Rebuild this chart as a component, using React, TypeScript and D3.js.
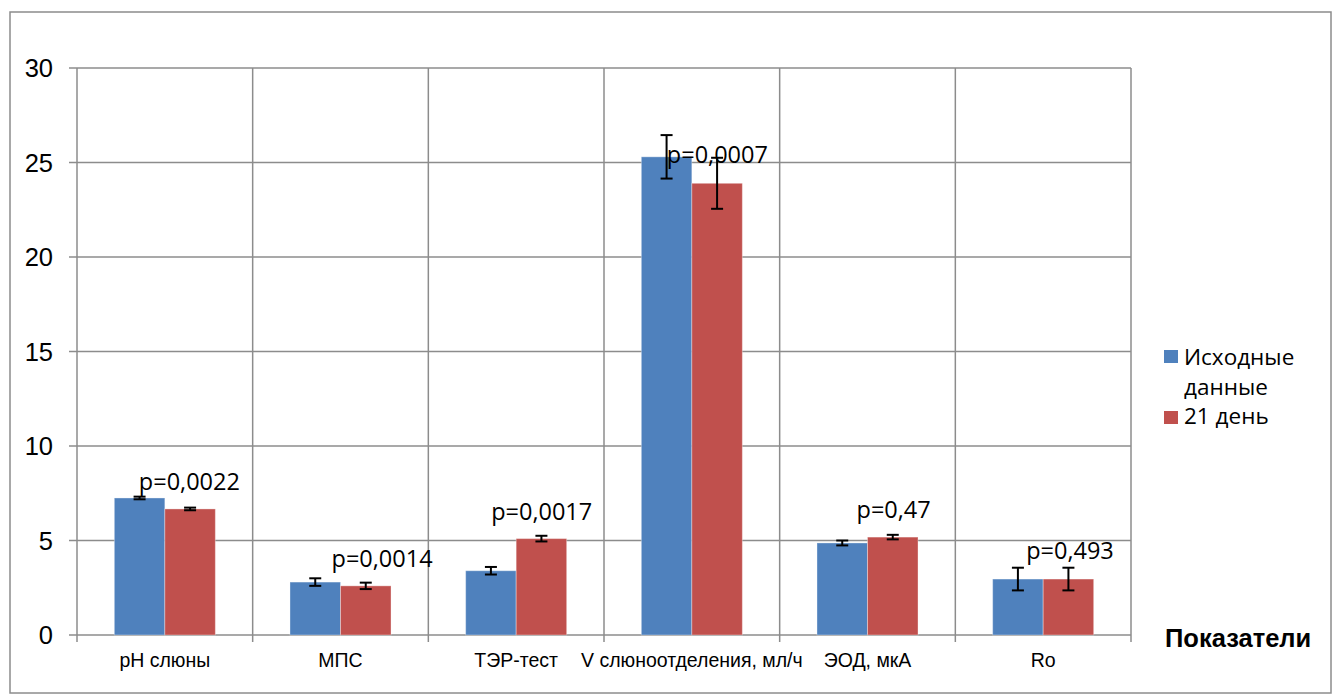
import React from "react";
import * as d3 from "d3";

const categories = ["pH слюны", "МПС", "ТЭР-тест", "V слюноотделения, мл/ч", "ЭОД, мкА", "Ro"];
const seriesNames = ["Исходные данные", "21 день"];
const baseline = [7.25, 2.8, 3.4, 25.3, 4.87, 2.96];
const day21 = [6.67, 2.6, 5.1, 23.9, 5.18, 2.96];
const baselineErr = [0.07, 0.2, 0.2, 1.15, 0.13, 0.6];
const day21Err = [0.07, 0.17, 0.15, 1.35, 0.12, 0.6];
const pValues = ["p=0,0022", "p=0,0014", "p=0,0017", "p=0,0007", "p=0,47", "p=0,493"];
// annotation placement: x offset from category center (px) and y in data units
const pLabelDx = [-26, -9, -25, -25, -11, -17];
const pLabelY = [7.67, 3.6, 6.08, 24.97, 6.19, 4.02];
const yTicks = [0, 5, 10, 15, 20, 25, 30];

const colors = ["#4F81BD", "#C0504D"];
const grid = "#8C8C8C";
const arial = "'Liberation Sans', Arial, sans-serif";
const calibri = "'Open Sans', sans-serif";

export default function App() {
  const W = 1333, H = 695;
  const left = 77, right = 1131, top = 68, bottom = 635;
  const x = d3.scaleBand<string>().domain(categories).range([left, right]).padding(0);
  const inner = d3.scaleBand<string>().domain(seriesNames).range([0, x.bandwidth()]).paddingInner(0).paddingOuter(0.739);
  const y = d3.scaleLinear().domain([0, 30]).range([bottom, top]);
  const values = [baseline, day21];
  const errs = [baselineErr, day21Err];
  const bounds = categories.map((c) => x(c)!).concat([right]);

  return (
    <svg width={W} height={H} style={{ position: "absolute", left: 0, top: 0, background: "#fff" }}>
      <rect x={10} y={12} width={1321} height={681} fill="#fff" stroke={grid} strokeWidth={1.5} />
      {yTicks.map((t) => (
        <line key={"h" + t} x1={left - 8} x2={right} y1={y(t)} y2={y(t)} stroke={grid} strokeWidth={1.5} />
      ))}
      {bounds.map((bx, i) => (
        <line key={"v" + i} x1={bx} x2={bx} y1={top} y2={bottom + 7} stroke={grid} strokeWidth={1.5} />
      ))}
      {yTicks.map((t) => (
        <text key={"yt" + t} x={53} y={y(t) + 9} textAnchor="end" fontFamily={arial} fontSize={25.5} fill="#000">
          {t}
        </text>
      ))}
      {categories.map((c, ci) =>
        seriesNames.map((s, si) => {
          const bx = x(c)! + inner(s)!;
          const v = values[si][ci];
          return (
            <rect key={c + s} x={bx} y={y(v)} width={inner.bandwidth()} height={y(0) - y(v)} fill={colors[si]} stroke="#ffffff" strokeOpacity={0.35} strokeWidth={1} />
          );
        })
      )}
      {categories.map((c, ci) =>
        seriesNames.map((s, si) => {
          const cx = x(c)! + inner(s)! + inner.bandwidth() / 2;
          const v = values[si][ci];
          const e = errs[si][ci];
          return (
            <g key={"e" + c + s} stroke="#000" strokeWidth={2}>
              <line x1={cx} x2={cx} y1={y(v + e)} y2={y(v - e)} />
              <line x1={cx - 6} x2={cx + 6} y1={y(v + e)} y2={y(v + e)} />
              <line x1={cx - 6} x2={cx + 6} y1={y(v - e)} y2={y(v - e)} />
            </g>
          );
        })
      )}
      {categories.map((c, ci) => (
        <text key={"p" + c} x={x(c)! + x.bandwidth() / 2 + pLabelDx[ci]} y={y(pLabelY[ci])} fontFamily={calibri} fontSize={23.5} fill="#000">
          {pValues[ci]}
        </text>
      ))}
      {categories.map((c) => (
        <text key={"xl" + c} x={x(c)! + x.bandwidth() / 2} y={667} textAnchor="middle" fontFamily={arial} fontSize={19.5} fill="#000">
          {c}
        </text>
      ))}
      <text x={1165} y={647} fontFamily={arial} fontWeight="bold" fontSize={25.5} fill="#000">
        Показатели
      </text>
      <rect x={1164} y={350} width={14} height={13} fill={colors[0]} />
      <text x={1184} y={365} fontFamily={calibri} fontSize={22.5} fill="#000">Исходные</text>
      <text x={1184} y={395} fontFamily={calibri} fontSize={22.5} fill="#000">данные</text>
      <rect x={1164} y={411} width={14} height={13} fill={colors[1]} />
      <text x={1184} y={424} fontFamily={calibri} fontSize={22.5} fill="#000">21 день</text>
    </svg>
  );
}
